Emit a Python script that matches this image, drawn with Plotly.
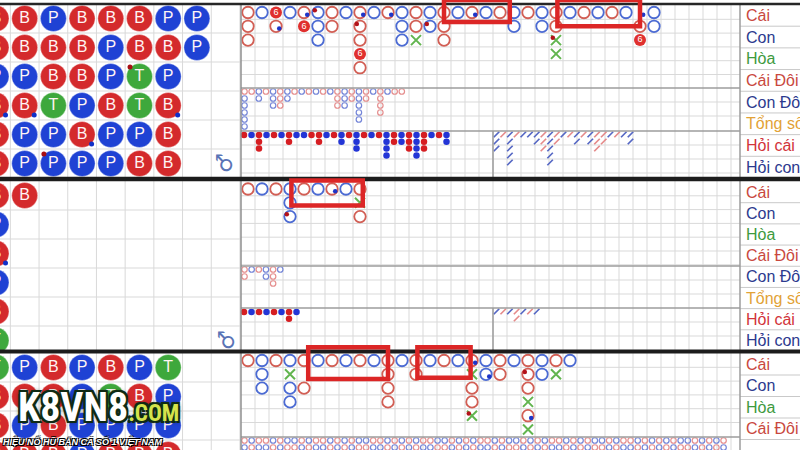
import plotly.graph_objects as go
from itertools import zip_longest

# ----------------------------- DATA -----------------------------
LABELS = ["Cái", "Con", "Hòa", "Cái Đôi", "Con Đôi", "Tổng số", "Hỏi cái", "Hỏi con"]
LABEL_COLORS = ["#c9483e", "#2c3a8e", "#3e9a3e", "#c9483e", "#2c3a8e", "#e2a236", "#d2343a", "#2c3a8e"]

# bead road: one string per column, top to bottom (B banker, P player, T tie)
BEAD_P1 = ["BBPBBB", "BBPBPP", "PBBTPP", "BBBPBP", "BPPBPP", "BBTTPB", "PBPBBB", "PP"]
BEAD_P1_PAIRS = [(0, 3, "P"), (1, 3, "P"), (6, 3, "P"), (3, 4, "P"), (5, 2, "B"), (2, 5, "B")]
BEAD_P2 = ["BPBPBT", "B"]
BEAD_P2_PAIRS = [(0, 2, "P")]
BEAD_P3 = ["TBBB", "PBPB", "BBBB", "PPPP", "BTPB", "PBPB", "TPPB"]
BEAD_P3_PAIRS = []

# big road: R banker ring, B player ring, S banker six, X tie cross, - empty
BIG_P1 = ["RRR", "B", "SR", "B", "RS", "BBB", "RR", "B", "RRRSR", "B", "R", "BBB", "RRX", "BB",
          "RRR", "B", "R", "B", "R", "BB", "R", "BB", "RRXX", "B", "R", "B", "R", "B", "-RS", "BB"]
BIG_P1_PAIRS = [(2, 1, "P"), (4, 0, "P"), (5, 0, "B"), (8, 0, "P"), (8, 1, "B"), (10, 0, "P"),
                (13, 1, "B"), (16, 0, "P"), (22, 2, "B"), (28, 0, "P")]
BIG_P2 = ["R", "B", "R", "BBB", "R", "B", "R", "B", "RXR"]
BIG_P2_PAIRS = [(3, 2, "B"), (6, 0, "P")]
BIG_P3 = ["R", "BBB", "R", "BXBB", "R-R", "B", "R", "B", "R", "B", "RRRR", "B", "RR", "B", "R",
          "B", "RXRRX", "BB", "RR", "B", "RRRXRX", "BB", "RX", "B"]
BIG_P3_PAIRS = [(16, 0, "P"), (16, 4, "B"), (17, 1, "P"), (20, 1, "B"), (20, 4, "P")]

# big eye boy (small rings)
EYE_P1 = ["RBBBBB", "R", "BB", "R", "BBB", "RRR", "BB", "R", "B", "R", "B", "R", "B", "RRR",
          "BBB", "RR", "BBBBB", "RR", "B", "RRRR", "B", "R", "R"]
EYE_P2 = ["RR", "B", "R", "BB", "RRR", "B"]
EYE_P3_ROW0 = "RBRRBRBBRBRRBRBRBBRRBRBRBRRBBRBRBRRBRBBRBRBRRBRBRBBRBRRBRBRBRBBRBRBR"
EYE_P3_ROW1 = "BRBBRBRRBRBBRBRBRRBBRBRBRBBRRBRBRBBRBRRBRBRBBRBRBRRBRBBRBRBRBRRBRBRB"

# small road (filled dots)
SMALL_P1 = ["R", "B", "RRR", "B", "R", "B", "RR", "B", "B", "R", "RR", "B", "R", "BB", "R", "BBB",
            "R", "B", "R", "BBBB", "RR", "BB", "RRR", "BBBB", "RRR", "B", "R", "BB"]
SMALL_P2 = ["R", "B", "R", "B", "R", "B", "RR", "B"]

# cockroach road (slashes)
ROACH_P1 = ["BBB", "R", "BBBBB", "R", "B", "B", "BB", "RRR", "BBBBB", "RR", "B", "R", "BB", "R",
            "BB", "RRR", "RR", "B", "R", "B", "BB"]
ROACH_P2 = ["B", "R", "B", "RR", "B", "R", "B"]

# highlight boxes in big-road grid units: (panel, col_from, col_to, row_from, row_to)
HIGHLIGHTS = [(0, 14.5, 19.2, -0.4, 1.2), (0, 22.6, 28.5, -0.4, 1.5), (1, 3.6, 8.7, -0.1, 1.7),
              (2, 4.8, 10.5, -0.45, 1.85), (2, 12.6, 16.4, -0.45, 1.75)]

# ----------------------------- GEOMETRY -----------------------------
PANELS = [
    dict(top=4, bottom=178, big=(5.5, 88), eye=(88, 131), small=(131, 177), lab=(4.5, 178)),
    dict(top=181, bottom=351, big=(182, 266), eye=(266, 308), small=(308, 350), lab=(181.5, 351)),
    dict(top=353, bottom=452, big=(353.5, 437), eye=(437, 452), small=None, lab=(353.5, 525.5)),
]
BEAD_X0, BEAD_DX, BEAD_DY = -4.0, 28.7, 29.0
ROAD_X0, CELL, BIG_DY = 241.0, 14.0, 13.8
ROAD_X1, SPLIT_X = 740.0, 493.0

RED, BLUE, GREEN = "#d42a2c", "#1f42d4", "#3ea83c"
RING_R, RING_B = "#d25f55", "#4c6bd3"

fig = go.Figure()


def segs(seglist, color, width):
    xs, ys = [], []
    for x1, y1, x2, y2 in seglist:
        xs += [x1, x2, None]
        ys += [y1, y2, None]
    fig.add_trace(go.Scatter(x=xs, y=ys, mode="lines", line=dict(color=color, width=width),
                             hoverinfo="skip", showlegend=False))


def pts(xs, ys, symbol, size, color, lw=0, lc=None, text=None, font=None):
    if not xs:
        return
    fig.add_trace(go.Scatter(
        x=xs, y=ys, mode="markers+text" if text else "markers",
        marker=dict(symbol=symbol, size=size, color=color, line=dict(width=lw, color=lc or color)),
        text=text, textposition="middle center", textfont=font,
        hoverinfo="skip", showlegend=False))


# ---------- grid ----------
grid = []
for p in PANELS:
    t, b = p["top"], min(p["bottom"], 450)
    k = 0
    while 10.35 + BEAD_DX * k < 240:
        x = 10.35 + BEAD_DX * k
        grid.append((x, t, x, b))
        k += 1
    r = 1
    while t + BEAD_DY * r < b:
        grid.append((0, t + BEAD_DY * r, ROAD_X0, t + BEAD_DY * r))
        r += 1
    k = 1
    while ROAD_X0 + CELL * k < ROAD_X1:
        x = ROAD_X0 + CELL * k
        grid.append((x, t, x, b))
        k += 1
    bands = [p["big"], p["eye"]] + ([p["small"]] if p["small"] else [])
    for i, (y0, y1) in enumerate(bands):
        step = BIG_DY if i == 0 else CELL
        r = 1
        while y0 + step * r < min(y1, 450) - 1:
            grid.append((ROAD_X0, y0 + step * r, ROAD_X1, y0 + step * r))
            r += 1
segs(grid, "#d9d9d9", 1)

# ---------- bead road ----------
def bead(cols, pairs, top):
    for letter, col in (("B", RED), ("P", BLUE), ("T", GREEN)):
        xs, ys = [], []
        for k, c in enumerate(cols):
            for r, ch in enumerate(c):
                if ch == letter:
                    xs.append(BEAD_X0 + BEAD_DX * k)
                    ys.append(top + 14.5 + BEAD_DY * r)
        pts(xs, ys, "circle", 26, col, 1, "rgba(255,255,255,0.35)", [letter] * len(xs),
            dict(color="#fff4f4", size=16, family="Liberation Sans, Arial"))
    for side, col, off in (("B", "#a80f14", -9.5), ("P", "#1030c8", 9.5)):
        xs = [BEAD_X0 + BEAD_DX * k + off for k, r, s in pairs if s == side]
        ys = [top + 14.5 + BEAD_DY * r + off for k, r, s in pairs if s == side]
        pts(xs, ys, "circle", 5, col)


bead(BEAD_P1, BEAD_P1_PAIRS, PANELS[0]["top"])
bead(BEAD_P2, BEAD_P2_PAIRS, PANELS[1]["top"])
bead(BEAD_P3, BEAD_P3_PAIRS, PANELS[2]["top"])

# ---------- big road ----------
def big(cols, pairs, top):
    cx = lambda k: ROAD_X0 + CELL / 2 + CELL * k
    cy = lambda r: top + 7 + BIG_DY * r
    cells = {}
    for k, c in enumerate(cols):
        for r, ch in enumerate(c):
            cells.setdefault(ch, []).append((cx(k), cy(r)))
    g = lambda ch: ([a for a, _ in cells.get(ch, [])], [b for _, b in cells.get(ch, [])])
    x, y = g("R"); pts(x, y, "circle-open", 11.5, RING_R, 1.8)
    x, y = g("B"); pts(x, y, "circle-open", 11.5, RING_B, 1.8)
    x, y = g("S"); pts(x, y, "circle", 12, "#e0302e", 0, None, ["6"] * len(x),
                       dict(color="white", size=9, family="Liberation Sans, Arial"))
    x, y = g("X"); pts(x, y, "x-thin-open", 10, "#62b54f", 2)
    for side, col, off in (("B", "#b3121a", -3.2), ("P", "#1d35c8", 3.2)):
        xs = [cx(k) + off for k, r, s in pairs if s == side]
        ys = [cy(r) + off * 0.7 for k, r, s in pairs if s == side]
        pts(xs, ys, "circle", 4.5, col)


for p, data, pr in ((PANELS[0], BIG_P1, BIG_P1_PAIRS), (PANELS[1], BIG_P2, BIG_P2_PAIRS),
                    (PANELS[2], BIG_P3, BIG_P3_PAIRS)):
    big(data, pr, p["big"][0])

# ---------- derived roads ----------
def small_marks(cols, x0, dx, y0, dy, kind):
    out = {"R": ([], []), "B": ([], [])}
    for k, c in enumerate(cols):
        for r, ch in enumerate(c):
            if ch in out:
                out[ch][0].append(x0 + dx * k)
                out[ch][1].append(y0 + dy * r)
    if kind == "ring":
        pts(*out["R"], "circle-open", 5.5, "#e58f8f", 1.2)
        pts(*out["B"], "circle-open", 5.5, "#7586d8", 1.2)
    elif kind == "dot":
        pts(*out["R"], "circle", 6.5, "#d61e22")
        pts(*out["B"], "circle", 6.5, "#2335d6")
    else:
        pts(*out["R"], "line-ne-open", 5.5, "#e58a8a", 1.7)
        pts(*out["B"], "line-ne-open", 5.5, "#5567c4", 1.7)


small_marks(EYE_P1, 244.5, 7.15, PANELS[0]["eye"][0] + 3.5, 7, "ring")
small_marks(EYE_P2, 244.5, 7.15, PANELS[1]["eye"][0] + 3.5, 7, "ring")
eye3 = ["".join(ch or "-" for ch in pair) for pair in zip_longest(EYE_P3_ROW0, EYE_P3_ROW1)]
small_marks(eye3, 244.5, 7.15, PANELS[2]["eye"][0] + 3.5, 7, "ring")
small_marks(SMALL_P1, 244, 7.5, PANELS[0]["small"][0] + 4, 6.8, "dot")
small_marks(SMALL_P2, 244, 7.5, PANELS[1]["small"][0] + 4, 6.8, "dot")
small_marks(ROACH_P1, 496.5, 6.7, PANELS[0]["small"][0] + 3.5, 7, "slash")
small_marks(ROACH_P2, 496.5, 6.7, PANELS[1]["small"][0] + 3.5, 7, "slash")

# ---------- frame lines ----------
shapes = []
def line(x0, y0, x1, y1, color, w):
    shapes.append(dict(type="line", x0=x0, y0=y0, x1=x1, y1=y1, xref="x", yref="y",
                       line=dict(color=color, width=w), layer="above"))

# label panel borders
for p in PANELS:
    l0, l1 = p["lab"]
    h = (l1 - l0) / 8
    for i in range(1, 8):
        line(ROAD_X1, l0 + h * i, 800, l0 + h * i, "#c9c9c9", 1)
for p in PANELS:
    line(ROAD_X0, p["big"][1], ROAD_X1, p["big"][1], "#9c9c9c", 1.5)
    if p["small"]:
        line(ROAD_X0, p["eye"][1], ROAD_X1, p["eye"][1], "#9c9c9c", 1.5)
        line(SPLIT_X, p["small"][0], SPLIT_X, p["small"][1], "#9c9c9c", 1.5)
line(ROAD_X0, 4, ROAD_X0, 450, "#8f8f8f", 1.5)
line(ROAD_X1, 4, ROAD_X1, 450, "#9c9c9c", 1.5)
line(0, 4, 800, 4, "#262626", 2.5)
line(0, 179, 800, 179, "#1c1c1c", 4.5)
line(0, 351.5, 800, 351.5, "#1c1c1c", 4)

for pi, c0, c1, r0, r1 in HIGHLIGHTS:
    top = PANELS[pi]["big"][0]
    shapes.append(dict(type="rect", xref="x", yref="y",
                       x0=ROAD_X0 + CELL * c0, x1=ROAD_X0 + CELL * c1,
                       y0=top + BIG_DY * r0, y1=top + BIG_DY * r1,
                       line=dict(color="#dc2626", width=4.5), fillcolor="rgba(0,0,0,0)", layer="above"))

# ---------- text ----------
ann = []
for p in PANELS:
    l0, l1 = p["lab"]
    h = (l1 - l0) / 8
    for i, (lab, col) in enumerate(zip(LABELS, LABEL_COLORS)):
        y = l0 + h * (i + 0.5)
        if y > 462:
            continue
        ann.append(dict(x=744, y=y, xref="x", yref="y", text=lab, showarrow=False,
                        xanchor="left", yanchor="middle",
                        font=dict(size=16, color=col, family="Liberation Sans, Arial")))

for p, (ix, iy) in ((PANELS[0], (224, 163)), (PANELS[1], (226, 340))):
    ann.append(dict(x=ix, y=iy, xref="x", yref="y", text="♂", showarrow=False, textangle=-90,
                    font=dict(size=22, color="#5a74b6", family="DejaVu Sans")))

outline = "2px 2px 0 #0f2a14, -2px -2px 0 #0f2a14, 2px -2px 0 #0f2a14, -2px 2px 0 #0f2a14, 0 0 5px #000"
ann.append(dict(x=16, y=407, xref="x", yref="y", showarrow=False, xanchor="left", yanchor="middle",
                text="K8VN8<span style='font-size:23px;color:#d4e34c'>.COM</span>",
                font=dict(size=40, color="white", weight="bold", shadow=outline,
                          family="Liberation Sans Narrow, Roboto Condensed, Liberation Sans")))
ann.append(dict(x=1, y=441, xref="x", yref="y", showarrow=False, xanchor="left", yanchor="middle",
                text="HIỆU NỔ HŨ BẮN CÁ SỐ 1 VIỆT NAM",
                font=dict(size=9, color="white", style="italic", weight="bold",
                          shadow="1px 1px 0 #000, -1px -1px 0 #000, 1px -1px 0 #000, -1px 1px 0 #000",
                          family="Liberation Sans, Arial")))

fig.update_layout(
    width=800, height=450, margin=dict(l=0, r=0, t=0, b=0),
    paper_bgcolor="white", plot_bgcolor="white", showlegend=False,
    xaxis=dict(range=[0, 800], visible=False, fixedrange=True),
    yaxis=dict(range=[450, 0], visible=False, fixedrange=True),
    shapes=shapes, annotations=ann,
)
fig.write_html("out.html", config={"displayModeBar": False},
               post_script="document.body.style.margin='0';document.body.style.overflow='hidden';")
